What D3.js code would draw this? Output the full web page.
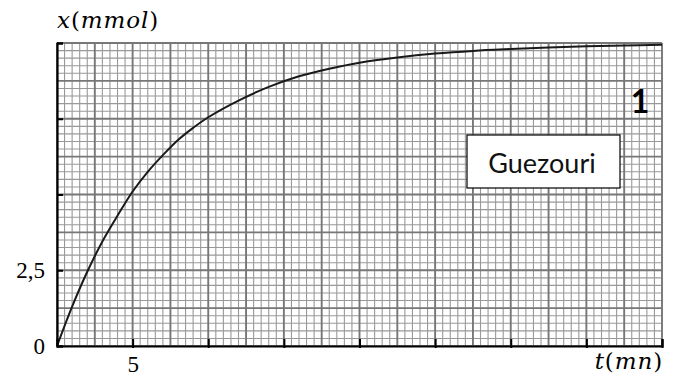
<!DOCTYPE html>
<html>
<head>
<meta charset="utf-8">
<script src="https://cdn.jsdelivr.net/npm/d3@7"></script>
<style>
  html, body { margin: 0; padding: 0; background: #fff; }
  svg { display: block; }
</style>
</head>
<body>
<svg id="chart" width="675" height="376"></svg>
<script>
// Time (mn) and amount x (mmol)
const times  = [0, 1, 2, 3, 4, 5, 6, 7, 8, 9, 10, 12, 14, 16, 18, 20, 22.5, 25, 27.5, 30, 32.5, 35, 37.5, 40];
const amount = [0, 1.3, 2.45, 3.45, 4.3, 5.1, 5.75, 6.3, 6.8, 7.2, 7.55, 8.1, 8.55, 8.9, 9.15, 9.35, 9.52, 9.65, 9.74, 9.8, 9.85, 9.89, 9.92, 9.94];

// Axis ticks and their labels
const xTicks = [5, 10, 15, 20, 25, 30, 35, 40];
const xTickLabels = ["5", "", "", "", "", "", "", ""];
const yTicks = [0, 2.5, 5, 7.5, 10];
const yTickLabels = ["0", "2,5", "", "", ""];

const xDomain = [0, 40];
const yDomain = [0, 10];

const svg = d3.select("#chart");
const plotLeft = 57, plotRight = 662, plotTop = 43, plotBottom = 346;

const x = d3.scaleLinear().domain(xDomain).range([plotLeft, plotRight]);
const y = d3.scaleLinear().domain(yDomain).range([plotBottom, plotTop]);

// Graph-paper grid: fine lines every 0.5 mn / 0.25 mmol, heavier every 5 cells
const grid = svg.append("g");
const vLines = d3.range(0, 40.001, 0.5);
const hLines = d3.range(0, 10.001, 0.25);

grid.selectAll("line.vminor").data(vLines.filter((d, i) => i % 5 !== 0)).join("line")
  .attr("x1", d => x(d)).attr("x2", d => x(d))
  .attr("y1", plotTop).attr("y2", plotBottom)
  .attr("stroke", "#999").attr("stroke-width", 1.1);
grid.selectAll("line.hminor").data(hLines.filter((d, i) => i % 5 !== 0)).join("line")
  .attr("y1", d => y(d)).attr("y2", d => y(d))
  .attr("x1", plotLeft).attr("x2", plotRight)
  .attr("stroke", "#999").attr("stroke-width", 1.1);
grid.selectAll("line.vmajor").data(vLines.filter((d, i) => i % 5 === 0)).join("line")
  .attr("x1", d => x(d)).attr("x2", d => x(d))
  .attr("y1", plotTop).attr("y2", plotBottom)
  .attr("stroke", "#777").attr("stroke-width", 1.9);
grid.selectAll("line.hmajor").data(hLines.filter((d, i) => i % 5 === 0)).join("line")
  .attr("y1", d => y(d)).attr("y2", d => y(d))
  .attr("x1", plotLeft).attr("x2", plotRight)
  .attr("stroke", "#777").attr("stroke-width", 1.9);

// Label box
const box = svg.append("g");
box.append("rect")
  .attr("x", 467).attr("y", 135).attr("width", 153).attr("height", 53)
  .attr("fill", "#fff").attr("stroke", "#000").attr("stroke-width", 1.2);
box.append("text")
  .attr("x", 542).attr("y", 173)
  .attr("text-anchor", "middle")
  .attr("font-family", "Lato, 'Open Sans', sans-serif")
  .attr("font-size", 27)
  .attr("fill", "#111")
  .text("Guezouri");

// Curve
const line = d3.line()
  .x((d, i) => x(times[i]))
  .y(d => y(d))
  .curve(d3.curveCatmullRom.alpha(0.5));
svg.append("path")
  .datum(amount)
  .attr("d", line)
  .attr("fill", "none")
  .attr("stroke", "#1a1a1a")
  .attr("stroke-width", 2);

const serif = "'Liberation Serif', 'DejaVu Serif', serif";
const mathFont = "'DejaVu Serif', serif";

// Axes
const xAxis = d3.axisBottom(x)
  .tickValues(xTicks)
  .tickSize(-7)
  .tickFormat((d, i) => xTickLabels[i]);
const gx = svg.append("g").attr("transform", `translate(0,${plotBottom})`).call(xAxis);
gx.select(".domain").attr("stroke", "#000").attr("stroke-width", 2.2);
gx.selectAll(".tick line").attr("stroke", "#000").attr("stroke-width", 2).attr("y2", -7).attr("y1", 2);
gx.selectAll(".tick text")
  .attr("y", 26).attr("dy", null)
  .attr("font-family", serif).attr("font-size", 23).attr("fill", "#000");

const yAxis = d3.axisLeft(y)
  .tickValues(yTicks)
  .tickSize(-6)
  .tickPadding(12)
  .tickFormat((d, i) => yTickLabels[i]);
const gy = svg.append("g").attr("transform", `translate(${plotLeft},0)`).call(yAxis);
gy.select(".domain").attr("stroke", "#000").attr("stroke-width", 2.2);
gy.selectAll(".tick line").attr("stroke", "#000").attr("stroke-width", 2);
gy.selectAll(".tick text").attr("font-family", serif).attr("font-size", 23).attr("fill", "#000");

// Axis titles
const yTitle = svg.append("text")
  .attr("x", 57).attr("y", 28)
  .attr("font-family", mathFont).attr("font-size", 23)
  .attr("letter-spacing", 0.9).attr("fill", "#000");
yTitle.append("tspan").attr("font-style", "italic").text("x");
yTitle.append("tspan").text("(");
yTitle.append("tspan").attr("font-style", "italic").text("mmol");
yTitle.append("tspan").text(")");

const xTitle = svg.append("text")
  .attr("x", 663).attr("y", 369)
  .attr("text-anchor", "end")
  .attr("font-family", mathFont).attr("font-size", 23)
  .attr("letter-spacing", 0.9).attr("fill", "#000");
xTitle.append("tspan").attr("font-style", "italic").text("t");
xTitle.append("tspan").text("(");
xTitle.append("tspan").attr("font-style", "italic").text("mn");
xTitle.append("tspan").text(")");

// Panel number
svg.append("text")
  .attr("x", 640).attr("y", 113)
  .attr("text-anchor", "middle")
  .attr("font-family", "Lato, 'Liberation Sans', sans-serif")
  .attr("font-weight", "bold")
  .attr("font-size", 32)
  .attr("fill", "#000")
  .text("1");
</script>
</body>
</html>
